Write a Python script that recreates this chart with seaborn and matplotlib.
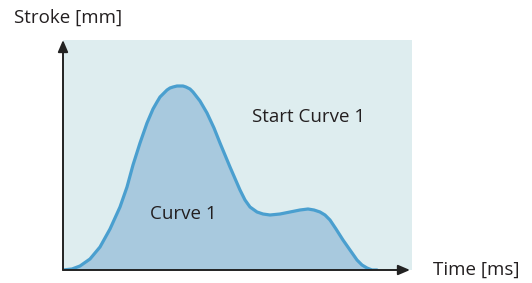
import matplotlib
matplotlib.use("Agg")
import matplotlib.pyplot as plt
import seaborn as sns
import pandas as pd

# data (time units ~ px offset, stroke units ~ px height)
time_ms = [0, 9, 17, 27, 37, 47, 57, 64, 70, 77, 84, 90, 94, 97, 101, 104, 107, 110, 114, 117, 120, 123,
           127, 130, 137, 144, 151, 157, 167, 177, 182, 187, 194, 200, 207, 217, 227,
           237, 245, 251, 257, 262, 267, 273, 280, 287, 294, 299, 304, 309, 314]
stroke_mm = [0, 1, 4, 11, 23, 41, 63, 83, 105, 127, 147, 161, 168, 173, 177, 180, 182, 183, 184, 184, 184, 183,
             181, 178, 169, 157, 142, 127, 103, 80, 70, 63, 58, 56, 55, 56, 58,
             60, 61, 60, 58, 55, 50, 41, 30, 20, 10, 5, 2, 0, 0]
x_label = "Time [ms]"
y_label = "Stroke [mm]"
region_label = "Start Curve 1"
curve_label = "Curve 1"

sns.set_style("white")
plt.rcParams['font.family'] = ['Open Sans', 'DejaVu Sans']

df = pd.DataFrame({"t": time_ms, "s": stroke_mm})

W, H = 532, 283
fig = plt.figure(figsize=(W / 100, H / 100), dpi=100)
left, right, top, bottom = 63, 412, 40, 270
ax = fig.add_axes([left / W, (H - bottom) / H, (right - left) / W, (bottom - top) / H])
ax.set_facecolor("#deedef")
ax.set_xlim(0, right - left)
ax.set_ylim(0, bottom - top)

ax.fill_between(df["t"], df["s"], 0, color="#a8c9de", lw=0, zorder=2)
sns.lineplot(data=df, x="t", y="s", ax=ax, color="#4a9fcf", lw=2.3, zorder=3, sort=False,
             solid_joinstyle="round", solid_capstyle="round")

for sp in ax.spines.values():
    sp.set_visible(False)
ax.set_xticks([])
ax.set_yticks([])
ax.set_xlabel("")
ax.set_ylabel("")

# axes arrows
axc = "#222222"
ax.annotate("", xy=(347, 0), xytext=(0, 0), xycoords="data",
            arrowprops=dict(arrowstyle="-|>,head_length=0.7,head_width=0.3", color=axc, lw=1.4,
                            shrinkA=0, shrinkB=0), annotation_clip=False, zorder=5)
ax.annotate("", xy=(0, 230), xytext=(0, 0), xycoords="data",
            arrowprops=dict(arrowstyle="-|>,head_length=0.7,head_width=0.3", color=axc, lw=1.4,
                            shrinkA=0, shrinkB=0), annotation_clip=False, zorder=5)

tc = "#231f20"
fs = 13.5
fig.text(14 / W, 1 - 18 / H, y_label, fontsize=fs, color=tc, ha="left", va="center")
fig.text(433 / W, 1 - 270 / H, x_label, fontsize=fs, color=tc, ha="left", va="center")
fig.text(252 / W, 1 - 117 / H, region_label, fontsize=fs, color=tc, ha="left", va="center")
fig.text(150 / W, 1 - 214 / H, curve_label, fontsize=fs, color=tc, ha="left", va="center")

fig.savefig("out.png", dpi=100)
